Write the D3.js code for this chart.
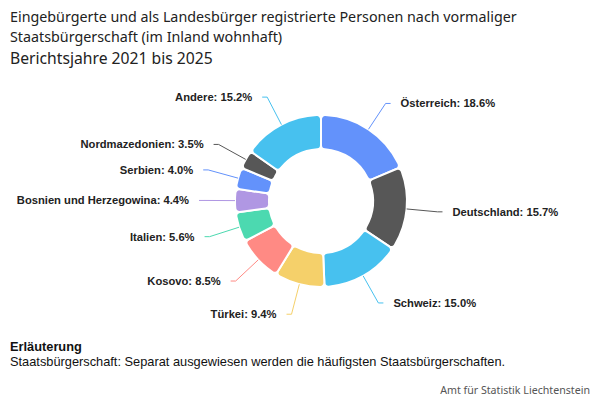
<!DOCTYPE html>
<html><head><meta charset="utf-8">
<script src="https://cdn.jsdelivr.net/npm/d3@7"></script>
<style>body{margin:0;background:#fff}svg{display:block}</style>
</head><body>
<svg id="c" width="600" height="400"></svg>
<script>
const categories = ["Österreich","Deutschland","Schweiz","Türkei","Kosovo","Italien","Bosnien und Herzegowina","Serbien","Nordmazedonien","Andere"];
const values = [18.6,15.7,15.0,9.4,8.5,5.6,4.4,4.0,3.5,15.2];
const colors = ["#6392fb","#575757","#47c1ef","#f5d06a","#ff8a84","#4cd9b0","#b097e3","#6392fb","#575757","#47c1ef"];
const titleLines = ["Eingebürgerte und als Landesbürger registrierte Personen nach vormaliger","Staatsbürgerschaft (im Inland wohnhaft)"];
const subtitle = "Berichtsjahre 2021 bis 2025";
const noteTitle = "Erläuterung";
const noteText = "Staatsbürgerschaft: Separat ausgewiesen werden die häufigsten Staatsbürgerschaften.";
const source = "Amt für Statistik Liechtenstein";

const svg = d3.select("#c");
const titleFont = "'Noto Sans', Lato, sans-serif";
function fit(sel, w){ const l = sel.node().getComputedTextLength(); const fs=+sel.attr("font-size"); sel.attr("font-size", fs*w/l); }
const t1 = svg.append("text").attr("x",10).attr("y",22).attr("font-family",titleFont).attr("font-size",15).attr("fill","#222").text(titleLines[0]);
fit(t1, 507);
const t2 = svg.append("text").attr("x",10).attr("y",42).attr("font-family",titleFont).attr("font-size",t1.attr("font-size")).attr("fill","#222").text(titleLines[1]);
const st = svg.append("text").attr("x",10).attr("y",64).attr("font-family",titleFont).attr("font-size",17).attr("fill","#222").text(subtitle);
fit(st, 203);

const cx=321, cy=201, rO=86, rI=52;
const g = svg.append("g").attr("transform",`translate(${cx},${cy})`);
const pie = d3.pie().sort(null).value(d=>d.v);
const data = pie(categories.map((c,i)=>({c,v:values[i],col:colors[i]})));
const arc = d3.arc().innerRadius(rI).outerRadius(rO).cornerRadius(4);
g.selectAll("path.s").data(data).join("path").attr("class","s")
  .attr("d",arc).attr("fill",d=>d.data.col).attr("stroke","#fff").attr("stroke-width",2);

const rE = 117;
data.forEach(d=>{
  const a=(d.startAngle+d.endAngle)/2;
  const sx=Math.sin(a), sy=-Math.cos(a);
  const right = sx>=0;
  const p0=[rO*sx,rO*sy], p1=[rE*sx,rE*sy], p2=[p1[0]+(right?5:-5),p1[1]];
  g.append("polyline").attr("points",[p0,p1,p2].map(p=>p.join(",")).join(" "))
    .attr("fill","none").attr("stroke",d.data.col).attr("stroke-width",1);
  g.append("text").attr("x",p2[0]+(right?10:-10)).attr("y",p2[1]).attr("dy","0.35em")
    .attr("text-anchor",right?"start":"end").attr("font-family","'Liberation Sans', Arial, sans-serif")
    .attr("font-weight","bold").attr("font-size",11.2).attr("fill","#222")
    .text(`${d.data.c}: ${d.data.v.toFixed(1)}%`);
});

svg.append("text").attr("x",10).attr("y",351).attr("font-family","'Liberation Sans', Arial, sans-serif").attr("font-weight","bold").attr("font-size",12.8).attr("fill","#111").text(noteTitle);
svg.append("text").attr("x",10).attr("y",366).attr("font-family","'Liberation Sans', Arial, sans-serif").attr("font-size",12.8).attr("fill","#111").text(noteText);
const src = svg.append("text").attr("x",590).attr("y",394).attr("text-anchor","end").attr("font-family",titleFont).attr("font-size",11).attr("fill","#555").text(source);
fit(src,150);
</script>
</body></html>
